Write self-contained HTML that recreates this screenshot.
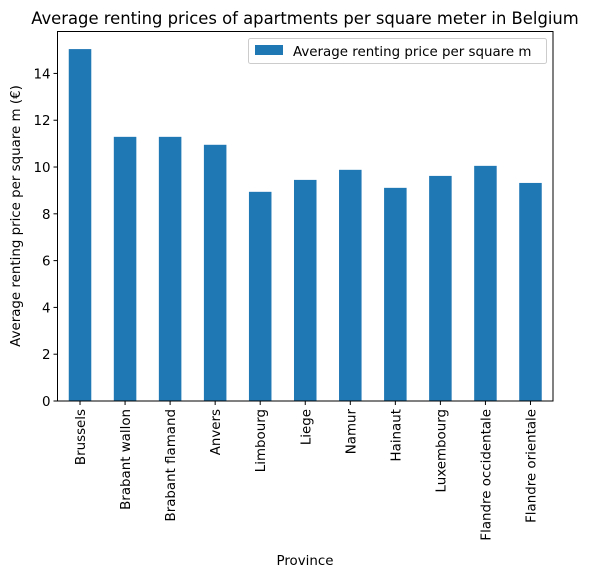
<!DOCTYPE html>
<html><head><meta charset="utf-8"><style>
body{margin:0;background:#fff;}
svg text{font-family:"DejaVu Sans","Liberation Sans",sans-serif;fill:#000;}
</style></head><body>
<svg id="chart" width="592" height="577" xmlns="http://www.w3.org/2000/svg">
<text x="305" y="24" font-size="16.4" text-anchor="middle">Average renting prices of apartments per square meter in Belgium</text>
<g id="bars"></g>
<g id="xticks"></g>
<g id="yticks"></g>
<rect x="57.5" y="31.5" width="495.5" height="369.5" fill="none" stroke="#000" stroke-width="1"/>
<text transform="translate(20,216) rotate(-90)" font-size="13.4" text-anchor="middle">Average renting price per square m (€)</text>
<text x="305" y="565" font-size="13.4" text-anchor="middle">Province</text>
<g>
<rect x="248.5" y="38.5" width="298" height="25" rx="2" fill="#fff" stroke="#ccc"/>
<rect x="255" y="45" width="28" height="10" fill="#1f77b4"/>
<text x="293" y="56" font-size="13.4">Average renting price per square m</text>
</g>
</svg>
<script>
const categories=["Brussels","Brabant wallon","Brabant flamand","Anvers","Limbourg","Liege","Namur","Hainaut","Luxembourg","Flandre occidentale","Flandre orientale"];
const values=[15.04,11.29,11.29,10.95,8.94,9.45,9.88,9.11,9.62,10.05,9.32];
const yTicks=[0,2,4,6,8,10,12,14];
const NS="http://www.w3.org/2000/svg";
const L=57.5,R=553,T=31.5,B=401;
const ymax=Math.max(...values)*1.05;
const y=v=>B-(v/ymax)*(B-T);
const step=(R-L)/categories.length;
const x=i=>L+step*(i+0.5);
const bars=document.getElementById('bars'),xt=document.getElementById('xticks'),yt=document.getElementById('yticks');
categories.forEach((c,i)=>{
 const r=document.createElementNS(NS,'rect');
 
 
 r.setAttribute('x',x(i)-step*0.25);r.setAttribute('width',step*0.5);
 r.setAttribute('y',y(values[i]));r.setAttribute('height',B-y(values[i]));
 r.setAttribute('fill','#1f77b4');bars.appendChild(r);
 const l=document.createElementNS(NS,'line');
 
 
 l.setAttribute('x1',x(i));l.setAttribute('x2',x(i));l.setAttribute('y1',B);l.setAttribute('y2',B+4);l.setAttribute('stroke','#000');xt.appendChild(l);
 const t=document.createElementNS(NS,'text');
 
 
 t.setAttribute('transform',`translate(${x(i)+5},${B+8}) rotate(-90)`);
 t.setAttribute('text-anchor','end');t.setAttribute('font-size','13.4');t.textContent=c;xt.appendChild(t);
});
yTicks.forEach(v=>{
 const l=document.createElementNS(NS,'line');
 
 
 l.setAttribute('x1',L-4);l.setAttribute('x2',L);l.setAttribute('y1',y(v));l.setAttribute('y2',y(v));l.setAttribute('stroke','#000');yt.appendChild(l);
 const t=document.createElementNS(NS,'text');
 
 
 t.setAttribute('x',L-7);t.setAttribute('y',y(v)+5);t.setAttribute('text-anchor','end');t.setAttribute('font-size','13.4');t.textContent=v;yt.appendChild(t);
});
</script>
</body></html>
